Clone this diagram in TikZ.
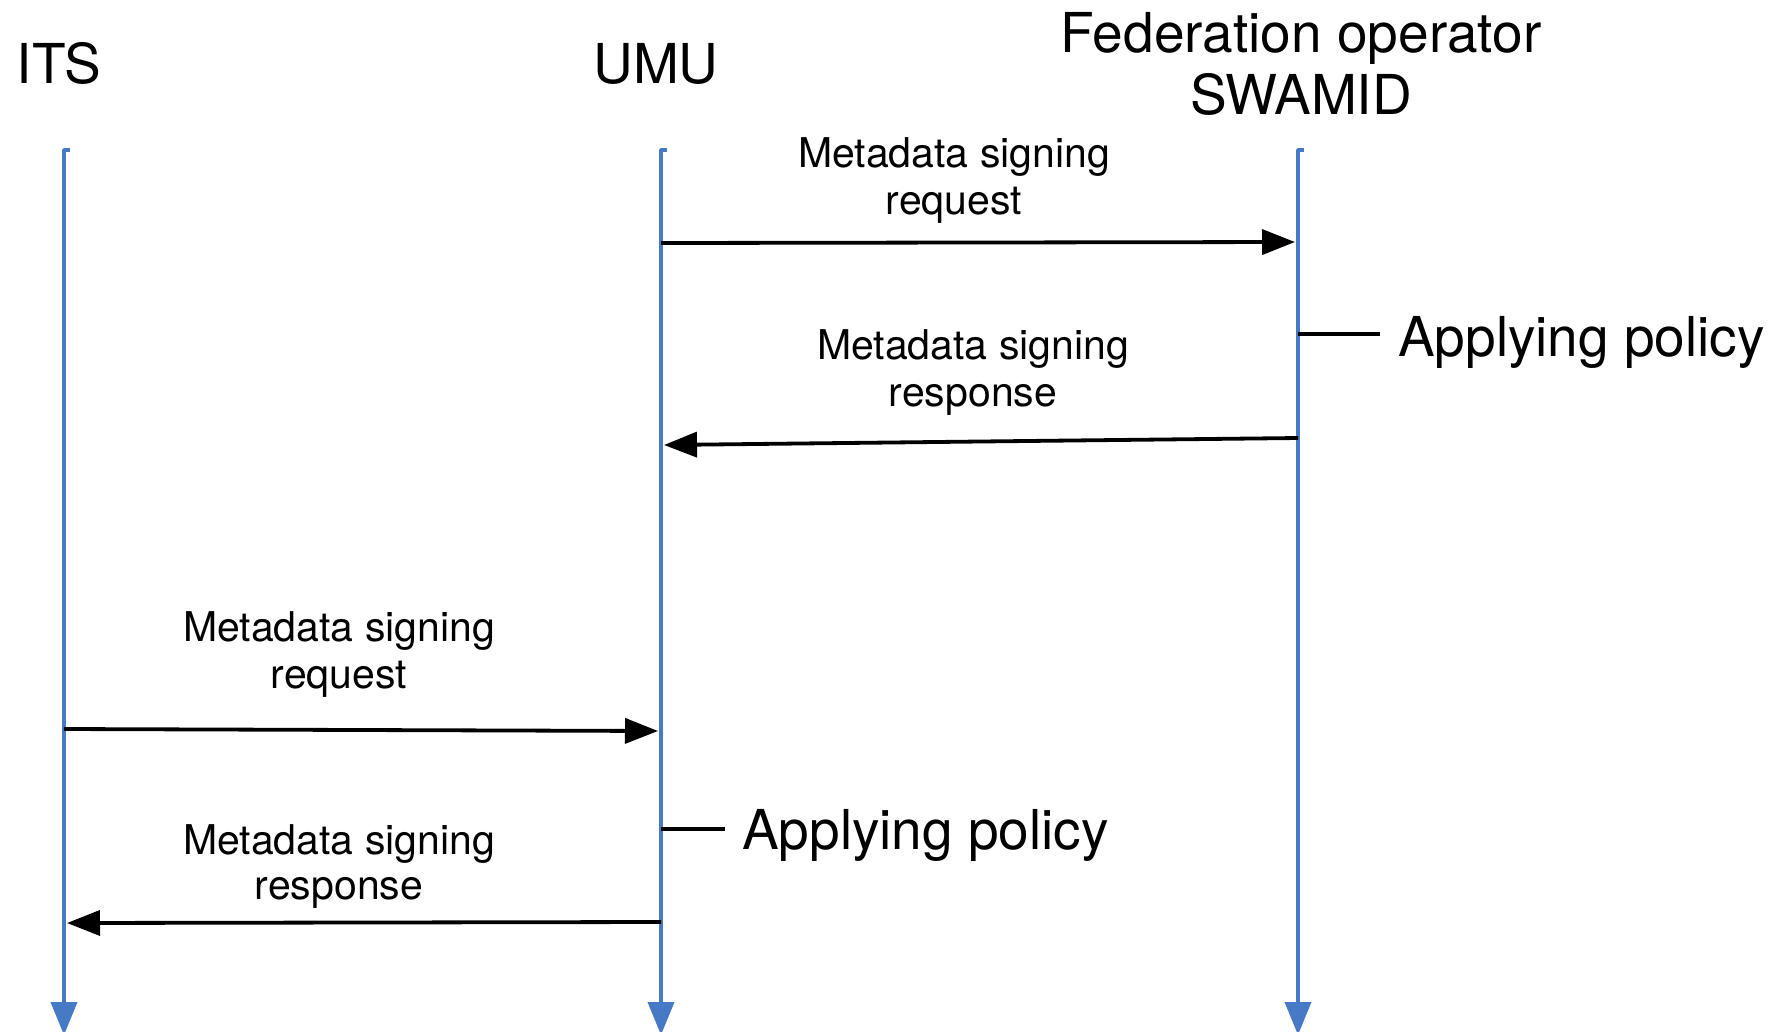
\documentclass[tikz,border=0pt]{standalone}
\usepackage{fontspec}
\setmainfont{TeX Gyre Heros}
\usetikzlibrary{arrows.meta}
\definecolor{lifeblue}{RGB}{70,122,198}
\begin{document}
\begin{tikzpicture}[x=1pt,y=-1pt,
  lifeline/.style={draw=lifeblue,line width=3.8pt,line join=round,-{Triangle[length=33pt,width=26pt]}},
  msg/.style={draw=black,line width=3.8pt,-{Triangle[length=33pt,width=25pt]}},
  tickline/.style={draw=black,line width=3.8pt},
  title/.style={font=\fontsize{55}{62}\selectfont,align=center,inner sep=0pt},
  lbl/.style={font=\fontsize{41}{47}\selectfont,align=center,inner sep=0pt},
  note/.style={font=\fontsize{55}{62}\selectfont,anchor=base west,inner sep=0pt}]
\useasboundingbox (0,0) rectangle (1785,1031);
% titles
\node[title,anchor=base] (its) at (59,83) {ITS};
\node[title,anchor=base] (umu) at (656,83) {UMU};
\node[title,anchor=base] (fed1) at (1301,52) {Federation operator};
\node[title,anchor=base] (fed2) at (1301,114) {SWAMID};
% lifelines
\coordinate (itsT) at (64,150);  \coordinate (itsB) at (64,1035);
\coordinate (umuT) at (661,150); \coordinate (umuB) at (661,1035);
\coordinate (fedT) at (1298,150);\coordinate (fedB) at (1298,1035);
\draw[lifeline] ([xshift=6pt]itsT) -- (itsT) -- (itsB);
\draw[lifeline] ([xshift=6pt]umuT) -- (umuT) -- (umuB);
\draw[lifeline] ([xshift=6pt]fedT) -- (fedT) -- (fedB);
% messages
\coordinate (m1s) at (661,243);  \coordinate (m1e) at (1295,242);
\coordinate (m2s) at (1298,438); \coordinate (m2e) at (664,445);
\coordinate (m3s) at (64,729);   \coordinate (m3e) at (658,731);
\coordinate (m4s) at (661,922);  \coordinate (m4e) at (67,923);
\draw[msg] (m1s) -- (m1e);
\draw[msg] (m2s) -- (m2e);
\draw[msg] (m3s) -- (m3e);
\draw[msg] (m4s) -- (m4e);
% message labels
\node[lbl,anchor=base] (l1a) at (954,167) {Metadata signing};
\node[lbl,anchor=base] (l1b) at (954,214) {request};
\node[lbl,anchor=base] (l2a) at (973,359) {Metadata signing};
\node[lbl,anchor=base] (l2b) at (973,406) {response};
\node[lbl,anchor=base] (l3a) at (339,641) {Metadata signing};
\node[lbl,anchor=base] (l3b) at (339,688) {request};
\node[lbl,anchor=base] (l4a) at (339,854) {Metadata signing};
\node[lbl,anchor=base] (l4b) at (339,899) {response};
% applying policy notes
\coordinate (p1s) at (1298,334); \coordinate (p1e) at (1380,334);
\draw[tickline] (p1s) -- (p1e);
\node[note] (p1) at (1398,356) {Applying policy};
\coordinate (p2s) at (661,829); \coordinate (p2e) at (725,829);
\draw[tickline] (p2s) -- (p2e);
\node[note] (p2) at (742,849) {Applying policy};
\end{tikzpicture}
\end{document}
